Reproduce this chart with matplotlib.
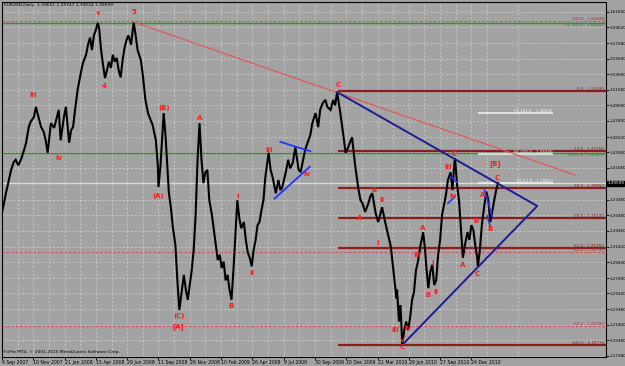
import matplotlib
matplotlib.use("Agg")
import matplotlib.pyplot as plt
import matplotlib.transforms as mtrans

# EURUSD daily closes (bar index, price)
bars = [0, 3, 6, 9, 14, 18, 21, 25, 29, 34, 37, 41, 44, 49, 52, 55, 60, 64, 67, 70,
        75, 80, 83, 87, 90, 95, 98, 103, 106, 109, 112, 116, 121, 124, 129, 132, 135, 138, 141, 144,
        147, 149, 152, 155, 158, 161, 164, 167, 170, 173, 176, 179, 182, 185, 188, 191, 194, 198, 201, 202,
        205, 208, 213, 216, 220, 224, 228, 231, 236, 239, 240, 243, 248, 251, 256, 259, 262, 266, 269, 272,
        276, 279, 282, 285, 288, 291, 294, 297, 300, 303, 306, 309, 312, 315,
        318, 322, 325, 328, 331, 334, 337, 340, 343, 346, 349, 352, 355, 358, 361, 364, 367, 371, 374, 377,
        380, 383, 386, 389, 392, 395, 398, 401, 404, 409,
        412, 415, 420, 424, 427, 430, 435, 439, 442, 446, 450, 455, 458, 461, 465, 470, 473, 476, 481, 485,
        488, 492, 496, 499, 504, 508, 511, 514,
        519, 524, 527, 531, 534, 537, 539, 542, 547, 550, 553, 557, 562, 565, 568, 573, 577, 580, 583, 588,
        593, 596, 597, 600, 602, 605, 606, 609, 611, 612, 614,
        617, 620, 623, 626, 629, 632, 635, 638, 642, 645, 646, 649, 651, 654, 657, 660, 663, 666, 669, 672,
        675, 678, 681, 684, 688, 691, 694, 695, 698, 701, 704, 707, 710, 714, 717, 720, 723, 726, 729, 730,
        733, 736, 740, 743, 746, 749, 752, 755, 758, 761]
closes = [1.358, 1.370, 1.383, 1.394, 1.413, 1.423, 1.426, 1.419, 1.426, 1.439, 1.448, 1.468, 1.475, 1.481, 1.494, 1.484, 1.468, 1.462, 1.451, 1.435,
          1.473, 1.467, 1.477, 1.490, 1.451, 1.481, 1.494, 1.448, 1.464, 1.468, 1.490, 1.516, 1.538, 1.550, 1.561, 1.574, 1.583, 1.567, 1.586, 1.593,
          1.602, 1.595, 1.567, 1.548, 1.531, 1.541, 1.552, 1.544, 1.561, 1.552, 1.557, 1.541, 1.532, 1.554, 1.570, 1.580, 1.586, 1.574, 1.595, 1.603,
          1.586, 1.567, 1.554, 1.535, 1.503, 1.486, 1.477, 1.471, 1.451, 1.419, 1.391, 1.417, 1.486, 1.455, 1.383, 1.365, 1.340, 1.316, 1.271, 1.233,
          1.259, 1.278, 1.259, 1.246, 1.265, 1.284, 1.310, 1.355, 1.426, 1.473, 1.426, 1.396, 1.410, 1.413,
          1.374, 1.355, 1.336, 1.316, 1.297, 1.304, 1.287, 1.295, 1.271, 1.278, 1.259, 1.246, 1.284, 1.329, 1.374, 1.351, 1.338, 1.346, 1.323, 1.307,
          1.300, 1.289, 1.310, 1.323, 1.342, 1.346, 1.361, 1.374, 1.404, 1.435,
          1.413, 1.404, 1.383, 1.400, 1.387, 1.391, 1.409, 1.426, 1.415, 1.422, 1.442, 1.413, 1.410, 1.422, 1.439, 1.451, 1.458, 1.473, 1.486, 1.468,
          1.490, 1.499, 1.503, 1.494, 1.490, 1.503, 1.496, 1.513,
          1.486, 1.455, 1.435, 1.442, 1.449, 1.455, 1.439, 1.417, 1.387, 1.374, 1.370, 1.359, 1.370, 1.379, 1.383, 1.358, 1.346, 1.355, 1.365, 1.345,
          1.327, 1.316, 1.310, 1.287, 1.271, 1.248, 1.259, 1.218, 1.239, 1.226, 1.188,
          1.207, 1.218, 1.207, 1.223, 1.246, 1.256, 1.284, 1.295, 1.316, 1.329, 1.333, 1.310, 1.287, 1.261, 1.282, 1.291, 1.265, 1.271, 1.304, 1.323,
          1.355, 1.368, 1.381, 1.400, 1.410, 1.387, 1.423, 1.428, 1.394, 1.374, 1.336, 1.300, 1.316, 1.333, 1.323, 1.342, 1.336, 1.316, 1.300, 1.289,
          1.310, 1.342, 1.368, 1.385, 1.374, 1.346, 1.359, 1.374, 1.387, 1.396]

date_labels = ["4 Sep 2007", "10 Nov 2007", "21 Jan 2008", "15 Apr 2008", "29 Jun 2008", "11 Sep 2008",
               "26 Nov 2008", "10 Feb 2009", "26 Apr 2009", "9 Jul 2009", "30 Sep 2009", "20 Dec 2009",
               "21 Mar 2010", "29 Jun 2010", "27 Sep 2010", "24 Dec 2010"]
price_ticks = [1.6160, 1.5962, 1.5758, 1.5560, 1.5360, 1.5158, 1.4958, 1.4760, 1.4552, 1.4358, 1.4158,
               1.3748, 1.3548, 1.3346, 1.3142, 1.2944, 1.2740, 1.2542, 1.2338, 1.2140, 1.1938, 1.1738]
last_price = 1.39599

# fibonacci retracement (solid, from the C top) and other levels
fib_levels = [1.51430, 1.43750, 1.38950, 1.35100, 1.31250, 1.18774]
fib_names = ["0.0", "23.6", "38.2", "50.0", "61.8", "100.0"]
dotted_levels = [1.60440, 1.30750, 1.21290]
dotted_names = ["100.0", "61.8", "50.0"]
green_levels = [1.60220, 1.43470]
green_names = ["FE 100.0", "FE 61.8"]
white_levels = [1.48610, 1.43340, 1.39650]
white_names = ["FE 161.8", "FE 100.0", "FE 61.8"]

# wave labels (text, bar, price)
wave_text = ["v", "5", "iii", "iv", "4", "(B)", "(A)", "A", "(C)", "[A]", "B", "i", "ii", "iii", "iv",
             "C", "A", "B", "i", "ii", "iii", "iv", "v", "C", "iii", "A", "i", "B", "ii", "iii", "C", "iv",
             "A", "B", "C", "A", "B", "C", "[B]"]
wave_bar = [147, 202, 48, 87, 156, 248, 239, 303, 271, 271, 352, 361, 384, 409, 467,
            516, 548, 570, 576, 583, 603, 623, 614, 614, 637, 646, 661, 654, 665, 684, 694, 692,
            707, 727, 729, 738, 749, 759, 756]
wave_price = [1.615, 1.616, 1.509, 1.428, 1.521, 1.493, 1.379, 1.480, 1.225, 1.212, 1.238, 1.379, 1.280, 1.439, 1.408,
              1.522, 1.351, 1.387, 1.319, 1.374, 1.207, 1.210, 1.194, 1.185, 1.304, 1.338, 1.293, 1.252, 1.256, 1.417, 1.433, 1.379,
              1.291, 1.347, 1.279, 1.381, 1.337, 1.403, 1.421]

# trend lines (bar, price) pairs
red_trend = ([202, 879], [1.603, 1.4064])
blue_triangle = ([514, 821, 614], [1.513, 1.3666, 1.188])
wedge_upper = ([427, 473], [1.449, 1.437])
wedge_lower = ([418, 472], [1.376, 1.417])
short_blue = [([688, 698], [1.404, 1.397]), ([684, 695], [1.370, 1.379]),
              ([740, 752], [1.387, 1.353]), ([744, 749], [1.354, 1.340])]

BG = "#a3a3a3"
GRID = "#c6c6c6"
MAROON = "#8b1d1d"
plt.rcParams["font.family"] = ["DejaVu Sans"]

fig = plt.figure(figsize=(6.25, 3.66), dpi=100)
fig.patch.set_facecolor(BG)
ax = fig.add_axes([2 / 625, 9 / 366, 604 / 625, 355 / 366])
ax.set_facecolor(BG)
ax.set_xlim(1.5, 926.5)
ax.set_ylim(1.1725, 1.6288)

# grid
ax.set_xticks([48 * i for i in range(len(date_labels))])
ax.set_xticks([24 + 48 * i for i in range(len(date_labels) + 1)], minor=True)
ax.set_yticks(price_ticks)
ax.grid(True, which="both", color=GRID, ls=(0, (2, 2)), lw=0.7)
ax.set_axisbelow(True)

ax.set_xticklabels(date_labels, fontsize=3.3, ha="left")
ax.set_yticklabels(["%.5f" % p for p in price_ticks], fontsize=3.0)
ax.yaxis.tick_right()
ax.tick_params(axis="both", which="major", length=2.0, width=0.6, pad=0.5, colors="black")
ax.tick_params(axis="x", which="minor", length=0)
for s in ax.spines.values():
    s.set_color("black")
    s.set_linewidth(0.8)

tr = mtrans.blended_transform_factory(ax.transAxes, ax.transData)

# full-width levels
for lv in dotted_levels:
    ax.axhline(lv, color="#d84848", ls=(0, (2, 2)), lw=0.8)
for lv in green_levels:
    ax.axhline(lv, color="#3a8a3a", lw=1.0)
ax.axhline(last_price, color="#dadada", lw=1.0)

# fib retracement lines
for lv, nm in zip(fib_levels, fib_names):
    ax.hlines(lv, 516, 926.5, color=MAROON, lw=1.6)
    ax.text(0.997, lv, "%s - %.5f" % (nm, lv), transform=tr, ha="right", va="bottom",
            fontsize=3.0, color=MAROON)
for lv, nm in zip(green_levels, green_names):
    ax.text(0.997, lv, "%s - %.5f" % (nm, lv), transform=tr, ha="right", va="top",
            fontsize=3.0, color="#2f7a2f")
for lv, nm in zip(dotted_levels, dotted_names):
    ax.text(0.997, lv, "%s - %.5f" % (nm, lv), transform=tr, ha="right", va="bottom",
            fontsize=3.0, color="#b03030")
for lv, nm in zip(white_levels, white_names):
    ax.hlines(lv, 730, 845, color="#f2f2f2", lw=1.1)
    ax.text(845, lv, "%s - %.5f" % (nm, lv), ha="right", va="bottom", fontsize=3.0, color="#f2f2f2")

# price
ax.plot(bars, closes, color="black", lw=1.5, solid_joinstyle="miter")

# trend lines
ax.plot(*red_trend, color="#e05a5a", lw=0.9)
ax.plot(*blue_triangle, color="#1c1c96", lw=1.4)
ax.plot(*wedge_upper, color="#2233ff", lw=1.3)
ax.plot(*wedge_lower, color="#2233ff", lw=1.3)
for xs, ys in short_blue:
    ax.plot(xs, ys, color="#2233ff", lw=1.1)

for t, b, p in zip(wave_text, wave_bar, wave_price):
    ax.text(b, p, t, color="#ff1a1a", fontsize=5, fontweight="bold", ha="center", va="center")

# current price marker
ax.text(1.002, last_price, "%.5f" % last_price, transform=tr, ha="left", va="center", fontsize=3.0,
        color="white", bbox=dict(boxstyle="square,pad=0.1", fc="black", ec="black"), clip_on=False)

ax.text(0.004, 0.997, "EURUSD,Daily  1.39651 1.39747 1.39024 1.39599", transform=ax.transAxes,
        ha="left", va="top", fontsize=3.2, color="black")
ax.text(0.004, 0.008, "FxPro MT4, \u00a9 2001-2010 MetaQuotes Software Corp.", transform=ax.transAxes,
        ha="left", va="bottom", fontsize=3.2, color="black")

fig.savefig("out.png", dpi=100, facecolor=BG)
